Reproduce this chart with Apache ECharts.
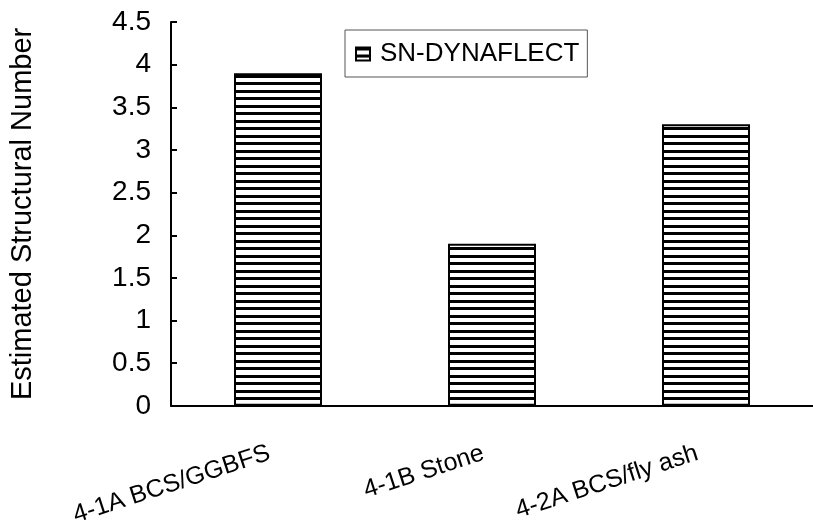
<!DOCTYPE html>
<html>
<head>
<meta charset="utf-8">
<script src="https://cdn.jsdelivr.net/npm/echarts@6/dist/echarts.min.js"></script>
<style>
  html, body { margin: 0; padding: 0; background: #fff; }
  #chart { width: 813px; height: 529px; }
</style>
</head>
<body>
<div id="chart"></div>
<script>
// data
var categories = ['4-1A BCS/GGBFS', '4-1B Stone', '4-2A BCS/fly ash']
var snValues = [3.9, 1.9, 3.3]
var seriesName = 'SN-DYNAFLECT'
var yTitle = 'Estimated Structural Number'

var FONT = '"Liberation Sans", Arial, sans-serif'

// horizontal stripe fill, like the excel pattern
function makeStripes() {
  var c = document.createElement('canvas')
  c.width = 8
  c.height = 15
  var ctx = c.getContext('2d')
  ctx.fillStyle = '#fff'
  ctx.fillRect(0, 0, 8, 15)
  ctx.fillStyle = '#000'
  ctx.fillRect(0, 0, 8, 3)
  ctx.fillRect(0, 7, 8, 3)
  return c
}
var stripes = makeStripes()

var chart = echarts.init(document.getElementById('chart'))
chart.setOption({
  backgroundColor: '#fff',
  animation: false,
  grid: {
    left: 168,
    top: 22,
    width: 657,
    height: 384
  },
  legend: {
    left: 345,
    top: 30,
    padding: [11, 8, 10, 10],
    borderColor: '#555',
    borderWidth: 1,
    icon: 'rect',
    itemWidth: 14,
    itemHeight: 13,
    textStyle: {
      fontFamily: FONT,
      fontSize: 26,
      color: '#000',
      padding: [0, 0, 0, 5]
    },
    data: [seriesName]
  },
  xAxis: {
    type: 'category',
    data: categories,
    axisLine: { lineStyle: { color: '#000', width: 2 } },
    axisTick: { show: false },
    axisLabel: {
      rotate: 18,
      margin: 44,
      padding: [0, 9, 0, 0],
      fontFamily: FONT,
      fontSize: 25,
      color: '#000'
    }
  },
  yAxis: {
    type: 'value',
    min: 0,
    max: 4.5,
    interval: 0.5,
    name: yTitle,
    nameLocation: 'middle',
    nameGap: 134,
    nameTextStyle: { fontFamily: FONT, fontSize: 29, color: '#000' },
    axisLine: { show: true, lineStyle: { color: '#000', width: 2 } },
    axisTick: { show: true, inside: true, length: 6, lineStyle: { color: '#000', width: 2 } },
    axisLabel: { margin: 20, fontFamily: FONT, fontSize: 28, color: '#000' },
    splitLine: { show: false }
  },
  series: [
    {
      name: seriesName,
      type: 'bar',
      data: snValues,
      barWidth: 88,
      itemStyle: {
        color: { image: stripes, repeat: 'repeat' },
        borderColor: '#000',
        borderWidth: 2
      }
    }
  ]
})
</script>
</body>
</html>
